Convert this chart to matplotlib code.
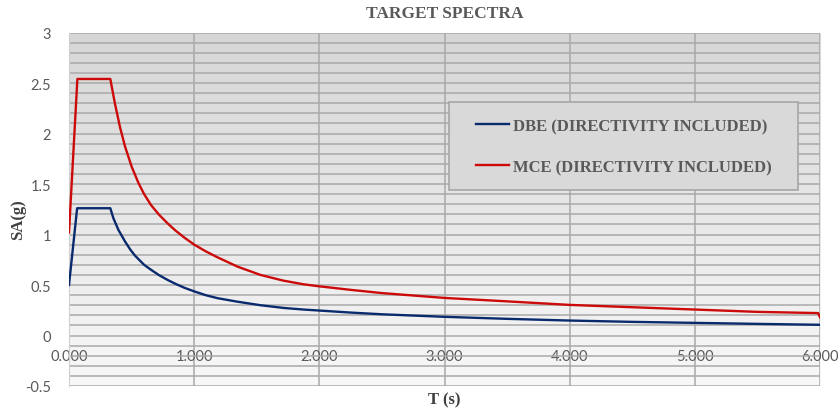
import numpy as np
import matplotlib
matplotlib.use("Agg")
import matplotlib.pyplot as plt
from matplotlib.patches import Rectangle

# ---- data ----
T_dbe = [0.0, 0.065, 0.33, 0.355, 0.395, 0.448, 0.49, 0.528, 0.60, 0.656, 0.72, 0.788,
         0.85, 0.921, 1.0, 1.09, 1.185, 1.344, 1.529, 1.714, 1.873, 2.0, 2.25, 2.5, 3.0,
         3.5, 4.0, 4.5, 5.0, 5.5, 6.0]
sa_dbe = [0.50, 1.26, 1.26, 1.16, 1.045, 0.93, 0.85, 0.79, 0.70, 0.65, 0.597, 0.55,
          0.512, 0.473, 0.437, 0.40, 0.37, 0.335, 0.30, 0.273, 0.257, 0.247, 0.227, 0.21,
          0.185, 0.165, 0.148, 0.135, 0.125, 0.115, 0.106]

T_mce = [0.0, 0.067, 0.33, 0.368, 0.408, 0.448, 0.501, 0.555, 0.60, 0.656, 0.72, 0.788,
         0.85, 0.921, 1.0, 1.09, 1.185, 1.344, 1.529, 1.714, 1.873, 2.0, 2.25, 2.5, 3.0,
         3.5, 4.0, 4.5, 5.0, 5.5, 5.985, 6.0]
sa_mce = [1.02, 2.54, 2.54, 2.29, 2.06, 1.87, 1.67, 1.51, 1.40, 1.29, 1.195, 1.11,
          1.04, 0.97, 0.90, 0.835, 0.775, 0.683, 0.60, 0.543, 0.507, 0.487, 0.452, 0.42,
          0.372, 0.338, 0.303, 0.28, 0.257, 0.234, 0.222, 0.18]

labels = ["DBE (DIRECTIVITY INCLUDED)", "MCE (DIRECTIVITY INCLUDED)"]
x_ticks = [0, 1, 2, 3, 4, 5, 6]
x_ticklabels = ["0.000", "1.000", "2.000", "3.000", "4.000", "5.000", "6.000"]
y_ticks = [-0.5, 0, 0.5, 1, 1.5, 2, 2.5, 3]
y_ticklabels = ["-0.5", "0", "0.5", "1", "1.5", "2", "2.5", "3"]
title = "TARGET SPECTRA"
xlabel = "T (s)"
ylabel = "SA(g)"

W, H = 838, 414
fig = plt.figure(figsize=(W / 100, H / 100), dpi=100)
fig.patch.set_facecolor("white")
L, R, TOP, BOT = 69, 820, 33.5, 387
ax = fig.add_axes([L / W, 1 - BOT / H, (R - L) / W, (BOT - TOP) / H])

# gradient background
grad = np.linspace(0, 1, 256).reshape(-1, 1)
ax.imshow(grad, cmap=matplotlib.colors.LinearSegmentedColormap.from_list(
    "g", ["#f8f8f8", "#d6d6d6"]), extent=[0, 1, 1, 0], transform=ax.transAxes,
    aspect="auto", zorder=0, interpolation="bilinear")

serif = "Liberation Serif"
sans = "Lato"
gray_txt = "#595959"

ax.plot(T_dbe, sa_dbe, color="#0a2a6e", lw=1.7, label=labels[0], zorder=3,
        solid_joinstyle="round")
ax.plot(T_mce, sa_mce, color="#cc0a0a", lw=1.7, label=labels[1], zorder=3,
        solid_joinstyle="round")

ax.set_xlim(0, 6)
ax.set_ylim(-0.5, 3)

# grid
ax.set_yticks(y_ticks)
ax.set_yticks(np.arange(-0.5, 3.01, 0.1), minor=True)
ax.set_xticks(x_ticks)
ax.grid(True, which="both", axis="y", color="#a9a9a9", lw=1.1, zorder=1)
ax.grid(True, which="major", axis="x", color="#a9a9a9", lw=1.1, zorder=1)
ax.set_axisbelow(True)
ax.tick_params(which="both", length=0)

ax.set_yticklabels(y_ticklabels, fontname=sans, fontsize=10.5, color=gray_txt)
ax.tick_params(axis="y", pad=13)

# x axis crossing at 0
ax.spines["bottom"].set_position(("data", 0))
ax.set_xticklabels(x_ticklabels, fontname=sans, fontsize=10.5, color=gray_txt)
ax.tick_params(axis="x", pad=10)
for s in ["top", "right", "bottom"]:
    ax.spines[s].set_visible(False)
ax.spines["left"].set_color("#d0d0d0")

fig.text((L + R) / 2 / W, 1 - 14 / H, title, ha="center", va="center",
         fontname=serif, fontweight="bold", fontsize=12.5, color=gray_txt)
fig.text((L + R) / 2 / W, 1 - 400 / H, xlabel, ha="center", va="center",
         fontname=serif, fontweight="bold", fontsize=12, color="#404040")
fig.text(18 / W, 1 - 220 / H, ylabel, ha="center", va="center", rotation=90,
         fontname=serif, fontweight="bold", fontsize=12, color="#404040")

# legend
bx0, bx1, by0, by1 = 449, 798, 103, 191
rect = Rectangle((bx0 / W, 1 - by1 / H), (bx1 - bx0) / W, (by1 - by0) / H,
                 transform=fig.transFigure, facecolor="#d9d9d9",
                 edgecolor="#a6a6a6", lw=1.2, zorder=4)
ax.add_artist(rect)
rect.set_clip_on(False)
leg = ax.legend(loc="upper left", bbox_to_anchor=((bx0 + 12) / W, 1 - (by0 + 1) / H),
                bbox_transform=fig.transFigure, frameon=False,
                prop={"family": serif, "weight": "bold", "size": 12},
                handlelength=2.0, handletextpad=0.2, labelspacing=1.5,
                borderpad=0.4)
for t in leg.get_texts():
    t.set_color(gray_txt)
leg.set_zorder(5)

fig.savefig("out.png", dpi=100)
